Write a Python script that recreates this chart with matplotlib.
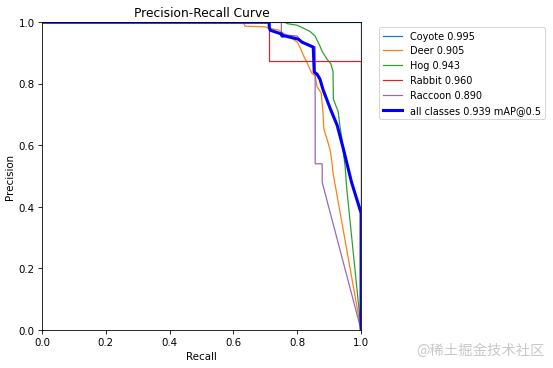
import matplotlib.pyplot as plt

# Per-class precision-recall points
coyote_r = [0.0, 1.0, 1.0]
coyote_p = [1.0, 1.0, 0.0]

deer_r = [0.0, 0.63, 0.636, 0.70, 0.71, 0.74, 0.76, 0.78, 0.80, 0.81, 0.82, 0.83,
          0.845, 0.856, 0.862, 0.875, 0.881, 0.883, 0.893, 0.903, 0.908, 0.912, 1.0]
deer_p = [1.0, 1.0, 0.987, 0.985, 0.98, 0.975, 0.962, 0.95, 0.935, 0.915, 0.89, 0.87,
          0.835, 0.825, 0.79, 0.77, 0.70, 0.655, 0.62, 0.585, 0.55, 0.51, 0.0]

hog_r = [0.0, 0.76, 0.77, 0.80, 0.81, 0.83, 0.84, 0.85, 0.856, 0.865, 0.87, 0.878,
         0.893, 0.905, 0.912, 0.913, 0.928, 0.934, 0.94, 0.944, 0.95, 0.955, 1.0]
hog_p = [1.0, 1.0, 0.995, 0.99, 0.985, 0.975, 0.97, 0.96, 0.955, 0.935, 0.925, 0.905,
         0.88, 0.865, 0.84, 0.75, 0.71, 0.66, 0.62, 0.58, 0.53, 0.46, 0.0]

rabbit_r = [0.0, 0.712, 0.712, 1.0, 1.0]
rabbit_p = [1.0, 1.0, 0.875, 0.875, 0.0]

raccoon_r = [0.0, 0.75, 0.75, 0.80, 0.81, 0.85, 0.856, 0.856, 0.878, 0.878, 1.0]
raccoon_p = [1.0, 1.0, 0.96, 0.955, 0.94, 0.92, 0.92, 0.54, 0.54, 0.48, 0.0]

all_r = [0.0, 0.712, 0.712, 0.715, 0.752, 0.752, 0.762, 0.803, 0.815, 0.850, 0.853,
         0.862, 0.871, 0.881, 0.903, 0.925, 0.944, 0.97, 1.0, 1.0]
all_p = [1.0, 1.0, 0.984, 0.974, 0.961, 0.955, 0.955, 0.945, 0.935, 0.919, 0.838,
         0.831, 0.815, 0.78, 0.72, 0.665, 0.59, 0.48, 0.38, 0.0]

class_names = ['Coyote', 'Deer', 'Hog', 'Rabbit', 'Raccoon']
class_ap = [0.995, 0.905, 0.943, 0.960, 0.890]
class_colors = ['#1f77b4', '#ff7f0e', '#2ca02c', '#d62728', '#9467bd']
map50 = 0.939

curves = [(coyote_r, coyote_p), (deer_r, deer_p), (hog_r, hog_p),
          (rabbit_r, rabbit_p), (raccoon_r, raccoon_p)]

DPI = 553 / 7.5
fig = plt.figure(figsize=(7.5, 5.0), dpi=DPI)
ax = fig.add_axes([0.076, 0.103, 0.577, 0.835])

for (r, p), name, ap, c in zip(curves, class_names, class_ap, class_colors):
    ax.plot(r, p, linewidth=1.2, color=c, label=f'{name} {ap:.3f}')

ax.plot(all_r, all_p, linewidth=3, color='blue', label=f'all classes {map50:.3f} mAP@0.5')

ax.set_xlabel('Recall')
ax.set_ylabel('Precision')
ax.set_xlim(0, 1)
ax.set_ylim(0, 1)
ax.set_title('Precision-Recall Curve')
ax.legend(bbox_to_anchor=(1.04, 1), loc='upper left', fontsize=9.5)

# watermark
fig.text(0.985, 0.03, '@稀土掘金技术社区', ha='right', va='bottom', fontsize=14,
         color='#c8c8c8', family=['Noto Sans CJK SC', 'DejaVu Sans'])

fig.savefig('out.png', dpi=DPI)
